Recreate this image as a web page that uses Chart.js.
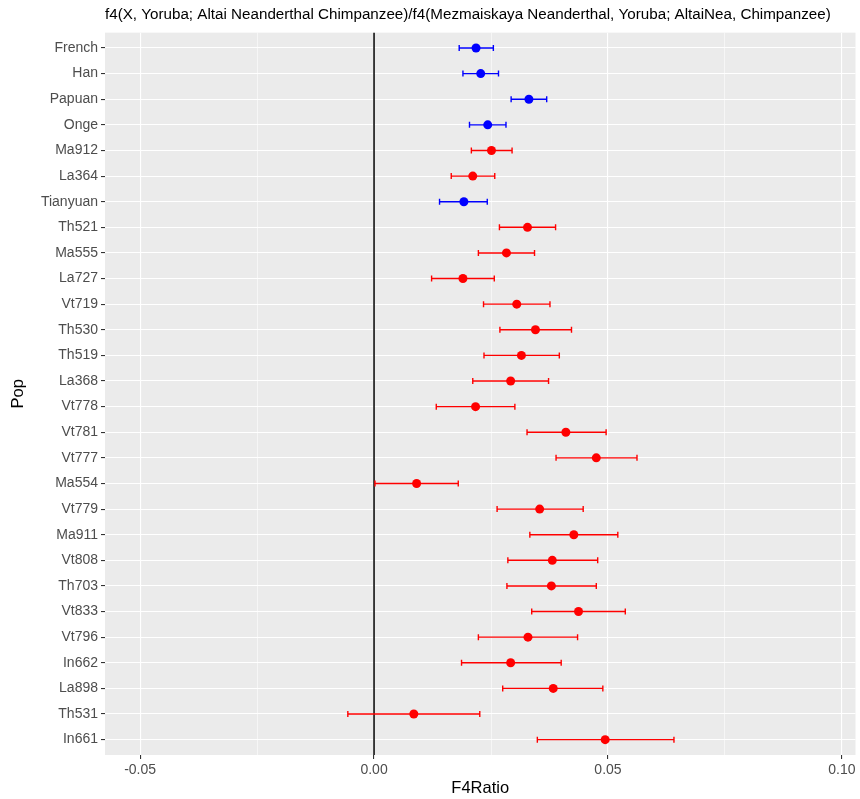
<!DOCTYPE html>
<html><head><meta charset="utf-8">
<script src="https://cdn.jsdelivr.net/npm/chart.js@4.4.0/dist/chart.umd.min.js"></script>
<style>html,body{margin:0;padding:0;background:#fff}</style>
</head><body>
<canvas id="c" width="860" height="799"></canvas>
<script>
const pops = ['French','Han','Papuan','Onge','Ma912','La364','Tianyuan','Th521','Ma555','La727','Vt719','Th530','Th519','La368','Vt778','Vt781','Vt777','Ma554','Vt779','Ma911','Vt808','Th703','Vt833','Vt796','In662','La898','Th531','In661'];
const f4ratio = [0.0218,0.0228,0.0331,0.0243,0.0251,0.0211,0.0192,0.0328,0.0283,0.0190,0.0305,0.0345,0.0315,0.0292,0.0217,0.0410,0.0475,0.0091,0.0354,0.0427,0.0381,0.0379,0.0437,0.0329,0.0292,0.0383,0.0085,0.0494];
const lowerCI = [0.0182,0.0190,0.0293,0.0204,0.0208,0.0165,0.0140,0.0268,0.0223,0.0123,0.0234,0.0269,0.0235,0.0211,0.0133,0.0327,0.0389,0.0002,0.0263,0.0333,0.0286,0.0284,0.0337,0.0223,0.0187,0.0275,-0.0056,0.0349];
const upperCI = [0.0255,0.0266,0.0369,0.0282,0.0295,0.0258,0.0242,0.0388,0.0343,0.0257,0.0376,0.0422,0.0396,0.0373,0.0301,0.0496,0.0562,0.0180,0.0447,0.0521,0.0478,0.0475,0.0537,0.0435,0.0400,0.0489,0.0226,0.0641];
const groups = ['ref','ref','ref','ref','sample','sample','ref','sample','sample','sample','sample','sample','sample','sample','sample','sample','sample','sample','sample','sample','sample','sample','sample','sample','sample','sample','sample','sample'];
const xTicks = [-0.05,-0.025,0,0.025,0.05,0.075,0.10];
const xTickLabels = {'-0.05':'-0.05','0':'0.00','0.05':'0.05','0.1':'0.10'};
const refLine = 0;
const titleText = 'f4(X, Yoruba; Altai Neanderthal Chimpanzee)/f4(Mezmaiskaya Neanderthal, Yoruba; AltaiNea, Chimpanzee)';

const groupColor = {ref:'#0000FF', sample:'#FF0000'};
const isMajor = v => Math.abs(v/0.05 - Math.round(v/0.05)) < 1e-6;

const panelPlugin = {
  id:'panel',
  beforeDraw(chart){
    const {ctx, chartArea:a} = chart;
    ctx.save();
    ctx.fillStyle = '#EBEBEB';
    ctx.fillRect(a.left, a.top, a.right-a.left, a.bottom-a.top);
    ctx.restore();
  },
  beforeDatasetsDraw(chart){
    const {ctx, chartArea:a} = chart;
    const xs = chart.scales.x, ys = chart.scales.y;
    ctx.save();
    const x0 = xs.getPixelForValue(refLine);
    ctx.strokeStyle = '#000000';
    ctx.lineWidth = 1.5;
    ctx.beginPath(); ctx.moveTo(x0, a.top); ctx.lineTo(x0, a.bottom); ctx.stroke();
    const cap = 3;
    ctx.lineWidth = 1.4;
    pops.forEach((p,i)=>{
      const y = ys.getPixelForValue(i);
      const xl = xs.getPixelForValue(lowerCI[i]);
      const xh = xs.getPixelForValue(upperCI[i]);
      ctx.strokeStyle = groupColor[groups[i]];
      ctx.beginPath();
      ctx.moveTo(xl, y); ctx.lineTo(xh, y);
      ctx.moveTo(xl, y-cap); ctx.lineTo(xl, y+cap);
      ctx.moveTo(xh, y-cap); ctx.lineTo(xh, y+cap);
      ctx.stroke();
    });
    ctx.restore();
  }
};

Chart.defaults.font.family = '"Liberation Sans", Arial, sans-serif';

new Chart(document.getElementById('c'), {
  type:'scatter',
  data:{
    datasets:[{
      label:'F4Ratio',
      data: pops.map((p,i)=>({x:f4ratio[i], y:i})),
      pointRadius:4.5,
      pointHoverRadius:4.5,
      pointBorderWidth:0,
      pointBackgroundColor: groups.map(g=>groupColor[g]),
      pointBorderColor: groups.map(g=>groupColor[g])
    }]
  },
  options:{
    responsive:false,
    animation:false,
    layout:{padding:{left:0,right:1,top:0,bottom:0}},
    plugins:{
      legend:{display:false},
      tooltip:{enabled:false},
      title:{
        display:true, text:titleText, align:'start', fullSize:false,
        color:'#000000', font:{size:15.2, weight:'normal'},
        padding:{top:6, bottom:8.4}
      }
    },
    scales:{
      x:{
        type:'linear', position:'bottom',
        min:-0.0575, max:0.1029,
        afterBuildTicks(s){ s.ticks = xTicks.map(v=>({value:v})); },
        afterFit(s){ s.height = 44; },
        ticks:{
          autoSkip:false, maxRotation:0, padding:3,
          color:'#4D4D4D', font:{size:14},
          callback(v){ const k = String(+v.toFixed(4)); return isMajor(v) ? (xTickLabels[k] ?? k) : ''; }
        },
        grid:{
          color:'#FFFFFF',
          lineWidth: c => (c.tick && isMajor(c.tick.value)) ? 1.1 : 0.55,
          drawTicks:true, tickLength:4,
          tickColor: c => (c.tick && isMajor(c.tick.value)) ? '#333333' : 'rgba(0,0,0,0)',
          tickWidth:1.1
        },
        border:{display:false},
        title:{display:true, text:'F4Ratio', color:'#000000', font:{size:16.5}, padding:{top:0,bottom:1}}
      },
      y:{
        type:'linear', reverse:true,
        min:-0.6, max:27.6,
        afterBuildTicks(s){ s.ticks = pops.map((p,i)=>({value:i})); },
        afterFit(s){ s.width = 105; },
        ticks:{
          autoSkip:false, padding:3,
          color:'#4D4D4D', font:{size:14},
          callback(v){ return pops[v]; }
        },
        grid:{
          color:'#FFFFFF', lineWidth:1.1,
          drawTicks:true, tickLength:4, tickColor:'#333333', tickWidth:1.1
        },
        border:{display:false},
        title:{display:true, text:'Pop', color:'#000000', font:{size:16.5}, padding:{top:9,bottom:0}}
      }
    }
  },
  plugins:[panelPlugin]
});
</script>
</body></html>
